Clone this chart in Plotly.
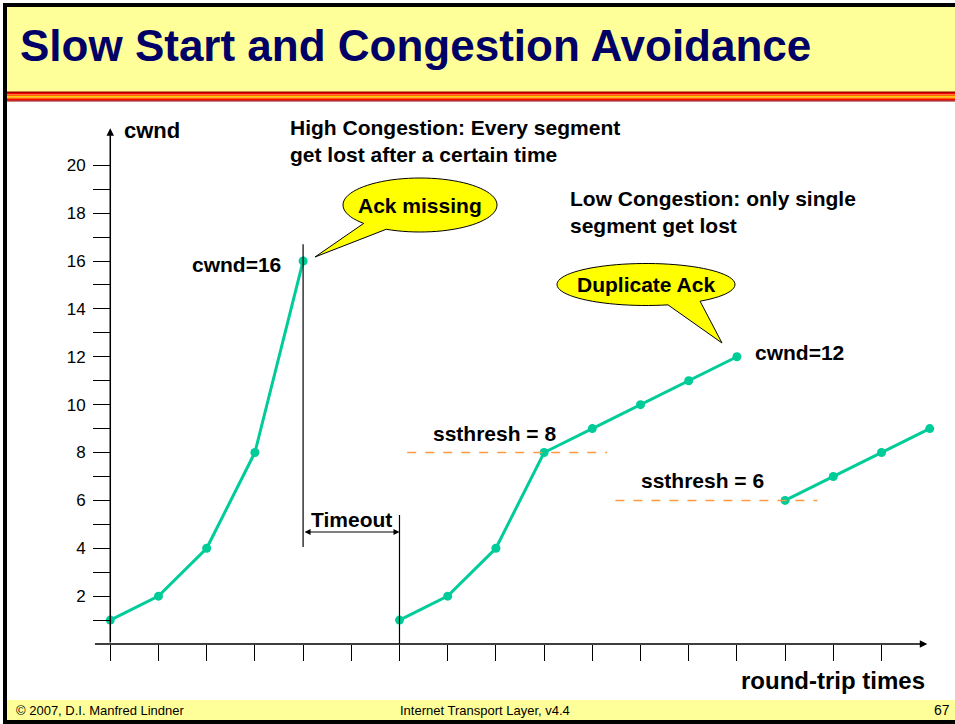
import numpy as np
import plotly.graph_objects as go

# ---------------- data ----------------
ss1_x = [0, 1, 2, 3, 4]
ss1_y = [1, 2, 4, 8, 16]
ss2_x = [6, 7, 8, 9, 10, 11, 12, 13]
ss2_y = [1, 2, 4, 8, 9, 10, 11, 12]
ss3_x = [14, 15, 16, 17]
ss3_y = [6, 7, 8, 9]
y_ticks = list(range(1, 21))
y_ticklabels = [str(v) if v % 2 == 0 else "" for v in y_ticks]
x_ticks = list(range(0, 17))
ssthresh_vals = [8, 6]
ssthresh_spans = [(6.16, 10.31), (10.48, 14.67)]
ssthresh_labels = ["ssthresh = 8", "ssthresh = 6"]

# ---------------- layout geometry ----------------
W, H = 955, 724
L, R, T, B = 91, 6, 127, 80
PW, PH = W - L - R, H - T - B
XR = [-0.4, 17.4]
YR = [0, 21.6]

def dx(px):
    return XR[0] + (px - L) / PW * (XR[1] - XR[0])

def dy(py):
    return YR[1] - (py - T) / PH * (YR[1] - YR[0])

def pxp(px):
    return (px - L) / PW

def pyp(py):
    return (H - B - py) / PH

GREEN = "#00CC99"
FONT = "Liberation Sans, Arial, sans-serif"

fig = go.Figure()
for xs, ys in [(ss1_x, ss1_y), (ss2_x, ss2_y), (ss3_x, ss3_y)]:
    fig.add_trace(go.Scatter(x=xs, y=ys, mode="lines+markers",
                             line=dict(color=GREEN, width=3),
                             marker=dict(color=GREEN, size=9),
                             cliponaxis=False, showlegend=False, hoverinfo="skip"))

shapes = []
def prect(x0, y0, x1, y1, color):
    shapes.append(dict(type="rect", xref="paper", yref="paper",
                       x0=pxp(x0), x1=pxp(x1), y0=pyp(y1), y1=pyp(y0),
                       fillcolor=color, line=dict(width=0), layer="below"))

prect(3, 7, 956, 92, "#FFFF99")
for (a, b, c) in [(91.5, 93, "#A00000"), (93, 94.5, "#FF0000"), (94.5, 96, "#FF6600"),
                  (96, 97.5, "#FFCC00"), (97.5, 99, "#FF6600"), (99, 100.2, "#FF0000"),
                  (100.2, 101.5, "#A00000")]:
    prect(3, a, 956, b, c)
prect(3, 700, 956, 720, "#FFFF99")
prect(3, 3, 956, 7, "#000000")
prect(3, 720, 956, 724, "#000000")
prect(3, 3, 7, 724, "#000000")

# timeout vertical lines
shapes.append(dict(type="line", xref="x", yref="y", x0=4, x1=4, y0=4.05, y1=16.7,
                   line=dict(color="black", width=1.2)))
shapes.append(dict(type="line", xref="x", yref="y", x0=6, x1=6, y0=0, y1=5.39,
                   line=dict(color="black", width=1.2)))
# ssthresh dashed lines
for v, (a, b) in zip(ssthresh_vals, ssthresh_spans):
    shapes.append(dict(type="line", xref="x", yref="y", x0=a, x1=b, y0=v, y1=v,
                       line=dict(color="#FF9944", width=1.5, dash="dash")))

# callout bubbles
def bubble(cx, cy, rx, ry, a0, a1, tip):
    ang = np.radians(np.linspace(a0, a1, 80))
    pts = [(cx + rx * np.cos(t), cy + ry * np.sin(t)) for t in ang] + [tip]
    path = "M " + " L ".join(f"{dx(px):.4f},{dy(py):.4f}" for px, py in pts) + " Z"
    shapes.append(dict(type="path", xref="x", yref="y", path=path,
                       fillcolor="#FFFF00", line=dict(color="black", width=1), layer="above"))

bubble(420, 205, 77, 27, 137, 476, (315, 257))
bubble(646, 284.5, 89, 21, 75.7, 412.6, (722, 343))

ann = []
def txt(x, y, s, size=21, xanchor="left", bold=True, xref="paper", yref="paper",
        color="black", family=FONT):
    ann.append(dict(x=x, y=y, xref=xref, yref=yref, text=s, showarrow=False,
                    xanchor=xanchor, yanchor="middle", align="left",
                    font=dict(family=family, size=size, color=color,
                              weight="bold" if bold else "normal")))

txt(pxp(122), pyp(130), "cwnd", size=22)
txt(pxp(288), pyp(141), "High Congestion: Every segment<br>get lost after a certain time")
txt(pxp(568), pyp(212), "Low Congestion: only single<br>segment get lost")
txt(pxp(420), pyp(205), "Ack missing", xanchor="center")
txt(pxp(646), pyp(284), "Duplicate Ack", xanchor="center")
txt(4, 15.87, "cwnd=16", xanchor="right", xref="x", yref="y")
ann[-1]["xshift"] = -20
txt(13, 12.16, "cwnd=12", xref="x", yref="y")
ann[-1]["xshift"] = 16
for lab, (px, py) in zip(ssthresh_labels, [(494, 433), (702, 480)]):
    txt(pxp(px), pyp(py), lab, xanchor="center")
txt(5.0, dy(519), "Timeout", xanchor="center", xref="x", yref="y")
txt(pxp(927), pyp(680), "round-trip times", size=24, xanchor="right")

# title and footer
txt(pxp(18), pyp(46), "Slow Start and Congestion Avoidance", size=44, color="#000066")
txt(pxp(14), pyp(710), "© 2007, D.I. Manfred Lindner", size=13, bold=False)
txt(pxp(485), pyp(710), "Internet Transport Layer, v4.4", size=13, bold=False, xanchor="center")
txt(pxp(952), pyp(710), "67", size=14, bold=False, xanchor="right")

# axis arrows
ann.append(dict(x=0, y=21.55, ax=0, ay=0, xref="x", yref="y", axref="x", ayref="y",
                text="", showarrow=True, arrowhead=2, arrowsize=1, arrowwidth=1.5,
                arrowcolor="black", standoff=0, startstandoff=0))
ann.append(dict(x=16.95, y=0, ax=-0.35, ay=0, xref="x", yref="y", axref="x", ayref="y",
                text="", showarrow=True, arrowhead=2, arrowsize=1, arrowwidth=1.5,
                arrowcolor="black", standoff=0, startstandoff=0))
# timeout double arrow
ann.append(dict(x=6, y=4.68, ax=4, ay=4.68, xref="x", yref="y", axref="x", ayref="y",
                text="", showarrow=True, arrowhead=2, startarrowhead=2, arrowside="end+start",
                arrowsize=1, arrowwidth=1.2, arrowcolor="black", standoff=0, startstandoff=0))

fig.update_layout(
    width=W, height=H, margin=dict(l=L, r=R, t=T, b=B, autoexpand=False),
    paper_bgcolor="white", plot_bgcolor="white",
    shapes=shapes, annotations=ann, showlegend=False,
    xaxis=dict(range=XR, tickvals=x_ticks, ticks="outside", ticklen=16, tickwidth=1.2,
               tickcolor="black", showticklabels=False, showgrid=False, zeroline=False,
               showline=False, fixedrange=True),
    yaxis=dict(range=YR, anchor="free", position=pxp(110), tickvals=y_ticks,
               ticktext=y_ticklabels, ticks="outside", ticklen=17, tickwidth=1.2,
               tickcolor="black", showgrid=False, zeroline=False, showline=False,
               tickfont=dict(family=FONT, size=17, color="black"),
               ticklabelstandoff=4, fixedrange=True),
)

fig.write_html("out.html", config={"displayModeBar": False},
               post_script="document.body.style.margin='0px';document.body.style.overflow='hidden';")
